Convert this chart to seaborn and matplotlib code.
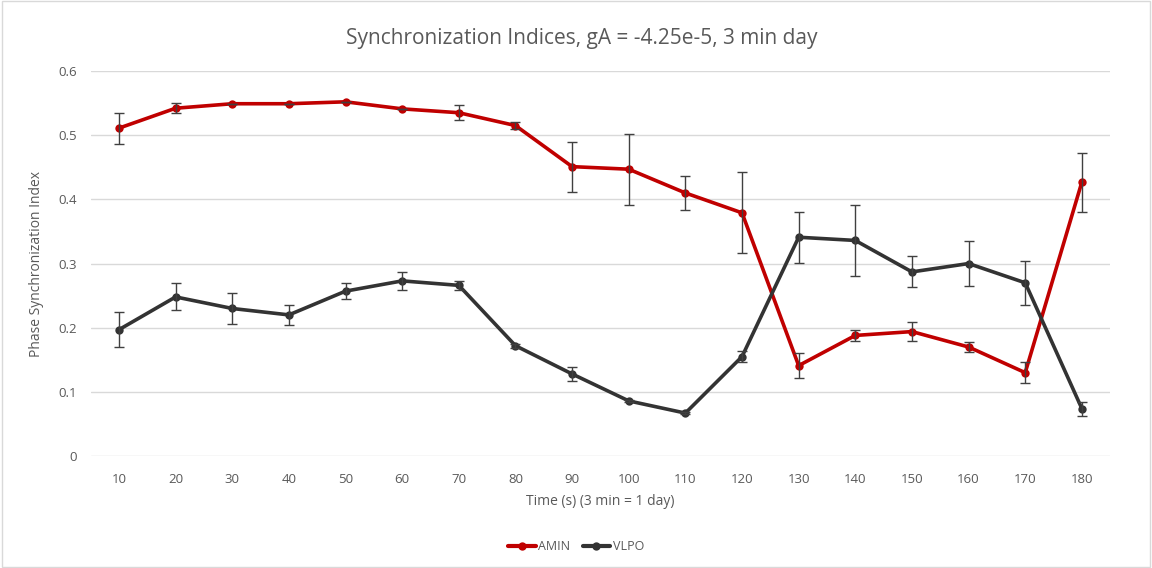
import numpy as np
import pandas as pd
import matplotlib
matplotlib.use('Agg')
import matplotlib.pyplot as plt
import seaborn as sns
from matplotlib.patches import Rectangle

# 数据
time_s = [10, 20, 30, 40, 50, 60, 70, 80, 90, 100, 110, 120, 130, 140, 150, 160, 170, 180]
amin_mean = [0.511, 0.542, 0.549, 0.549, 0.552, 0.541, 0.535, 0.515, 0.451, 0.447,
             0.410, 0.379, 0.141, 0.188, 0.194, 0.170, 0.130, 0.427]
amin_err = [0.024, 0.008, 0.0, 0.0, 0.0, 0.0, 0.012, 0.006, 0.039, 0.055,
            0.027, 0.063, 0.020, 0.008, 0.015, 0.008, 0.016, 0.046]
vlpo_mean = [0.197, 0.248, 0.230, 0.220, 0.257, 0.273, 0.266, 0.172, 0.128, 0.086,
             0.067, 0.155, 0.341, 0.336, 0.287, 0.300, 0.270, 0.074]
vlpo_err = [0.027, 0.021, 0.024, 0.016, 0.013, 0.014, 0.007, 0.003, 0.011, 0.002,
            0.002, 0.008, 0.040, 0.055, 0.024, 0.035, 0.034, 0.011]

sns.set_style('white')
plt.rcParams['font.family'] = ['Open Sans', 'DejaVu Sans']
txt = '#595959'

df = pd.DataFrame({'Time': time_s * 2,
                   'PSI': amin_mean + vlpo_mean,
                   'Group': ['AMIN'] * len(time_s) + ['VLPO'] * len(time_s)})
colors = {'AMIN': '#c00000', 'VLPO': '#333333'}

fig = plt.figure(figsize=(11.52, 5.68), dpi=100)
ax = fig.add_axes([0.0787, 0.197, 0.885, 0.678])

# 误差棒
ax.errorbar(time_s, amin_mean, yerr=amin_err, fmt='none', ecolor='#404040',
            elinewidth=1, capsize=3.5, capthick=1, zorder=3)
ax.errorbar(time_s, vlpo_mean, yerr=vlpo_err, fmt='none', ecolor='#404040',
            elinewidth=1, capsize=3.5, capthick=1, zorder=3)

sns.lineplot(data=df, x='Time', y='PSI', hue='Group', palette=colors, ax=ax,
             marker='o', markersize=6, markeredgewidth=0, linewidth=2.6,
             zorder=2, legend=False)

ax.set_xlim(5, 185)
ax.set_ylim(0, 0.6)
ax.set_xticks(time_s)
ax.set_xticklabels([str(t) for t in time_s])
ax.set_yticks([0, 0.1, 0.2, 0.3, 0.4, 0.5, 0.6])
ax.set_yticklabels(['0', '0.1', '0.2', '0.3', '0.4', '0.5', '0.6'])
ax.grid(True, axis='y', color='#d9d9d9', linewidth=1)
ax.grid(False, axis='x')
ax.set_axisbelow(True)
for s in ax.spines.values():
    s.set_visible(False)
ax.tick_params(axis='both', length=0, labelsize=9.5, colors=txt, pad=12)
ax.tick_params(axis='y', pad=10)

ax.set_xlabel('Time (s) (3 min = 1 day)', fontsize=10, color=txt, labelpad=6)
ax.set_ylabel('Phase Synchronization Index', fontsize=10, color=txt, labelpad=10)
fig.text(0.505, 0.933, 'Synchronization Indices, gA = -4.25e-5, 3 min day',
         fontsize=15, color=txt, ha='center', va='center')

# 图例
handles = [plt.Line2D([], [], color=colors[g], linewidth=3, marker='o',
                      markersize=6, markeredgewidth=0) for g in ['AMIN', 'VLPO']]
fig.legend(handles, ['AMIN', 'VLPO'], loc='center', bbox_to_anchor=(0.5, 0.037),
           ncol=2, frameon=False, fontsize=9, labelcolor=txt, handlelength=2.2,
           handletextpad=0.2, columnspacing=1.0)

# 外边框
fig.patches.append(Rectangle((0.002, 0.002), 0.996, 0.996, transform=fig.transFigure,
                             fill=False, edgecolor='#d9d9d9', linewidth=1))

fig.savefig('out.png', dpi=100)
